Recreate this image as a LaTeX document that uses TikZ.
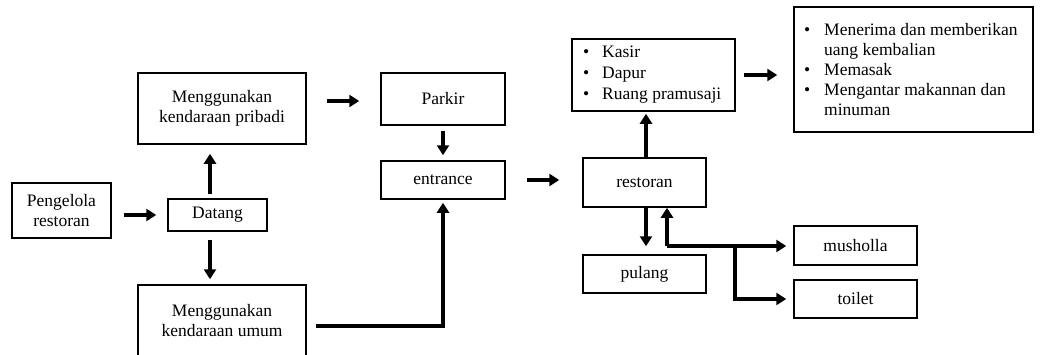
\documentclass[tikz,border=0pt]{standalone}
\usepackage{fontspec}
\setmainfont{Liberation Serif}
\usetikzlibrary{arrows.meta,calc}
\begin{document}
\begin{tikzpicture}[x=1pt,y=-1pt,
  bx/.style={draw,line width=1.5pt,align=center,inner sep=0pt,font=\fontsize{17.5}{20}\selectfont},
  arr/.style={line width=3.3pt,-{Triangle[length=10pt,width=12pt]}},
  ln/.style={line width=3.3pt}]
\useasboundingbox (0,0) rectangle (1040,354);
\clip (0,0) rectangle (1040,354);
\newcommand{\bul}[1]{\makebox[#1][l]{\textbullet}}
% boxes
\node[bx,minimum width=168,minimum height=71] (pribadi) at (222,108.5) {Menggunakan\\kendaraan pribadi};
\node[bx,minimum width=99,minimum height=55] (pengelola) at (61.5,210.5) {Pengelola\\restoran};
\node[bx,minimum width=99,minimum height=32] (datang) at (217.5,215) {Datang};
\node[bx,minimum width=168,minimum height=71] (umum) at (222,320.5) {Menggunakan\\kendaraan umum};
\node[bx,minimum width=124,minimum height=52] (parkir) at (443,99) {Parkir};
\node[bx,minimum width=124,minimum height=38] (entrance) at (443,180) {entrance};
\node[bx,minimum width=163,minimum height=72] (kasir) at (653.5,75) {};
\node[anchor=west,align=left,inner sep=0pt,font=\fontsize{17.5}{21}\selectfont] (kasirtxt) at (583,75)
  {\bul{19pt}Kasir\\\bul{19pt}Dapur\\\bul{19pt}Ruang pramusaji};
\node[bx,minimum width=239,minimum height=125] (tugas) at (913.5,69.5) {};
\node[anchor=west,align=left,inner sep=0pt,font=\fontsize{17.5}{20}\selectfont] (tugastxt) at (804,70)
  {\bul{20pt}Menerima dan memberikan\\\hspace*{20pt}uang kembalian\\\bul{20pt}Memasak\\\bul{20pt}Mengantar makannan dan\\\hspace*{20pt}minuman};
\node[bx,minimum width=123,minimum height=49] (restoran) at (644.5,182.5) {restoran};
\node[bx,minimum width=123,minimum height=38] (pulang) at (644.5,274) {pulang};
\node[bx,minimum width=123,minimum height=39] (musholla) at (855.5,245.5) {musholla};
\node[bx,minimum width=123,minimum height=38] (toilet) at (855.5,299) {toilet};
% connectors
\draw[arr,shorten <=12pt,shorten >=11pt] (pengelola.east |- datang) -- (datang.west);
\draw[arr,shorten <=4pt,shorten >=9pt] ([xshift=-7.5pt]datang.north) -- ([xshift=-7.5pt]datang.north |- pribadi.south);
\draw[arr,shorten <=8pt,shorten >=5pt] ([xshift=-7.5pt]datang.south) -- ([xshift=-7.5pt]datang.south |- umum.north);
\draw[arr,shorten <=20pt,shorten >=21pt] ($(pribadi.east)+(0,-7.5)$) -- ($(parkir.west)+(0,2)$);
\draw[arr,shorten <=5pt,shorten >=5pt] (parkir.south) -- (entrance.north);
\draw[arr,shorten <=21pt,shorten >=23pt] (entrance.east) -- (entrance.east -| restoran.west);
\draw[arr,shorten <=9pt,shorten >=3pt] ($(umum.east)+(0,5.5)$) -| (entrance.south);
\draw[arr,shorten >=2pt] ([xshift=1.5pt]restoran.north) -- ([xshift=1.5pt]restoran.north |- kasir.south);
\draw[arr,shorten >=8pt] ([xshift=1.5pt]restoran.south) -- ([xshift=1.5pt]restoran.south |- pulang.north);
\draw[arr,shorten <=8pt,shorten >=16pt] (kasir.east) -- (tugas.west |- kasir.east);
\coordinate (j) at (667,246);
\coordinate (b) at (735,246);
\draw[arr] (j) -- (j |- restoran.south);
\draw[arr,shorten >=7pt] (j) -- (musholla.west |- j);
\draw[arr,shorten >=7pt] (b) |- (toilet.west);
\end{tikzpicture}
\end{document}
